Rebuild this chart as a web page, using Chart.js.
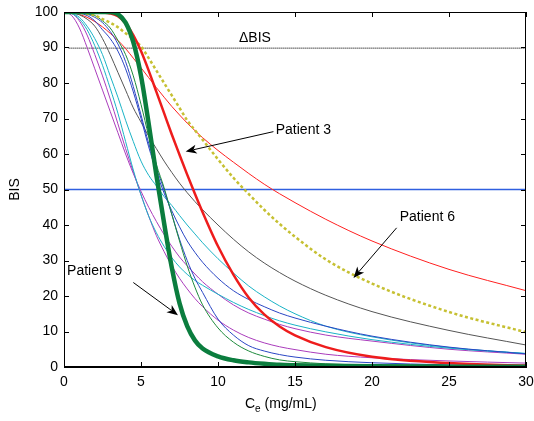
<!DOCTYPE html>
<html>
<head>
<meta charset="utf-8">
<script src="https://cdn.jsdelivr.net/npm/chart.js@4.4.0/dist/chart.umd.min.js"></script>
<style>
  html, body { margin: 0; padding: 0; background: #ffffff; }
  #wrap { width: 534px; height: 421px; }
</style>
</head>
<body>
<div id="wrap"><canvas id="bis-data"></canvas></div>
<script>
// Effect-site concentration grid (mg/mL)
const ce = [0, 0.5, 1, 1.5, 2, 2.5, 3, 3.5, 4, 4.5, 5, 5.5, 6, 6.5, 7, 7.5, 8, 8.5, 9, 10, 11, 12, 13, 14, 15, 17, 20, 25, 30];

// BIS, one array per patient
const patient9  = [100, 100, 100, 100, 100, 100, 100, 99.4, 97, 91.5, 82, 68.5, 54, 40.5, 28, 18, 11.5, 7.5, 5.2, 3, 1.9, 1.3, 0.9, 0.6, 0.5, 0.35, 0.2, 0.1, 0.05];
const patient3  = [100, 100, 100, 100, 100, 99.9, 99.6, 98.8, 96.8, 93.5, 89, 83.5, 77.5, 71.5, 65.5, 59.8, 54.2, 48.8, 43.6, 34, 26, 19.5, 14.8, 11.4, 8.9, 5.6, 2.9, 1.1, 0.4];
const patient6  = [100, 100, 99.8, 99.5, 99, 98, 97, 95.7, 94, 92.3, 90.3, 87, 83.5, 80, 76.5, 73, 69.5, 66.7, 64, 58.5, 53.3, 48.7, 44.3, 40.3, 36.7, 30.3, 23.5, 15.5, 9.8];
const patient10 = [100, 99.8, 99.3, 98.5, 97.3, 95.8, 94, 92, 89.7, 87, 84.3, 81.5, 78.7, 76, 73.4, 71, 68.7, 66.6, 64.6, 61, 57.7, 54.5, 51.5, 48.8, 46.3, 41.6, 35.5, 27.5, 21.5];
const patient7  = [100, 99.8, 99.2, 98, 96, 92.5, 88, 83, 78, 73, 69, 65, 61.5, 58, 54.8, 51.8, 49.1, 46.6, 44.3, 40, 36, 32.4, 29.3, 26.6, 24.2, 20.2, 15.6, 10.3, 6.2];
const patient1  = [100, 100, 99.7, 99, 97.5, 95, 92.5, 89, 84, 77.5, 70, 62, 55, 49, 44, 39.5, 35.5, 32.3, 29.5, 25, 21.5, 19, 17, 15.2, 13.8, 11.5, 8.7, 5.6, 3.7];
const patient8  = [100, 100, 99.8, 99.4, 98.5, 97, 94.5, 91, 86, 79, 71, 63, 56, 50, 43, 36, 30, 25, 21, 13.5, 9, 6, 4.5, 3.5, 2.8, 1.9, 1.2, 0.6, 0.3];
const patient2  = [100, 100, 99.8, 99.5, 99, 97.5, 95.5, 92, 88, 82, 74, 65, 57, 50.5, 43, 35.5, 28.5, 22.5, 17.5, 11, 7, 4.5, 3, 2, 1.5, 0.9, 0.5, 0.2, 0.1];
const patient4  = [100, 99.6, 98, 95, 90.5, 85, 78.5, 71.5, 63.5, 55.5, 48.5, 42.5, 37.8, 34, 30.8, 28.2, 26.1, 24.4, 23, 20.5, 18.2, 16.2, 14.5, 13, 11.8, 9.9, 7.7, 5.3, 3.8];
const patient11 = [100, 99.7, 98.5, 96, 92.5, 88, 82, 76, 69.5, 63.5, 58, 54, 51, 48, 45.5, 42.7, 40, 37.5, 35, 30.5, 26.5, 22.8, 19.8, 17.2, 15, 11.5, 8.5, 5.5, 3.8];
const patient5  = [100, 99, 95.5, 90, 84, 78, 72, 66, 60, 54.5, 49.5, 45, 41, 37.3, 34, 31, 28.5, 26.2, 24, 20.5, 17.5, 15.2, 13.5, 12, 10.8, 9, 7.3, 5, 3.6];
const patient12 = [100, 99.6, 97.5, 93.5, 88, 82, 75.5, 68.5, 61.5, 55, 48.5, 42.5, 37, 32.5, 28.5, 25, 22, 19.3, 17, 13.2, 10.4, 8.3, 6.8, 5.7, 4.9, 3.6, 2.6, 1.7, 1.1];

// Reference levels and axis ticks
const deltaBisLevel = 89.8;
const halfLevel = 50;
const xTicks = [0, 5, 10, 15, 20, 25, 30];
const yTicks = [0, 10, 20, 30, 40, 50, 60, 70, 80, 90, 100];

const FONT = "'Liberation Sans', Arial, Helvetica, sans-serif";

function toPoints(ys) {
  return ce.map((x, i) => ({ x: x, y: ys[i] }));
}

function curve(ys, color, width, dash) {
  return {
    data: toPoints(ys),
    borderColor: color,
    backgroundColor: color,
    borderWidth: width,
    borderDash: dash || [],
    pointRadius: 0,
    fill: false,
    cubicInterpolationMode: 'monotone'
  };
}

function refLine(level, start, color, width, dash) {
  return {
    data: [{ x: start, y: level }, { x: xTicks[xTicks.length - 1], y: level }],
    borderColor: color,
    backgroundColor: color,
    borderWidth: width,
    borderDash: dash || [],
    pointRadius: 0,
    fill: false,
    tension: 0
  };
}

// Arrow with a notched head, drawn from (x1,y1) to tip (x2,y2)
function drawArrow(ctx, x1, y1, x2, y2) {
  const ang = Math.atan2(y2 - y1, x2 - x1);
  const len = 11, half = 4.5, back = 8;
  ctx.beginPath();
  ctx.moveTo(x1, y1);
  ctx.lineTo(x2 - Math.cos(ang) * back, y2 - Math.sin(ang) * back);
  ctx.stroke();
  ctx.beginPath();
  ctx.moveTo(x2, y2);
  ctx.lineTo(x2 - Math.cos(ang) * len - Math.sin(ang) * half, y2 - Math.sin(ang) * len + Math.cos(ang) * half);
  ctx.lineTo(x2 - Math.cos(ang) * back, y2 - Math.sin(ang) * back);
  ctx.lineTo(x2 - Math.cos(ang) * len + Math.sin(ang) * half, y2 - Math.sin(ang) * len - Math.cos(ang) * half);
  ctx.closePath();
  ctx.fill();
}

function noPad(scale) {
  scale.paddingLeft = 0;
  scale.paddingRight = 0;
  scale.paddingTop = 0;
  scale.paddingBottom = 0;
}

const framePlugin = {
  id: 'frame',
  afterDatasetsDraw(chart) {
    const { ctx, chartArea: a, scales } = chart;
    ctx.save();
    ctx.strokeStyle = '#000000';
    ctx.lineWidth = 1;
    ctx.setLineDash([]);
    ctx.strokeRect(a.left + 0.5, a.top + 0.5, a.right - a.left - 1, a.bottom - a.top - 1);
    ctx.beginPath();
    xTicks.forEach(v => {
      const px = Math.round(scales.x.getPixelForValue(v)) + 0.5;
      ctx.moveTo(px, a.bottom); ctx.lineTo(px, a.bottom - 5);
      ctx.moveTo(px, a.top); ctx.lineTo(px, a.top + 5);
    });
    yTicks.forEach(v => {
      const py = Math.round(scales.y.getPixelForValue(v)) + 0.5;
      ctx.moveTo(a.left, py); ctx.lineTo(a.left + 5, py);
      ctx.moveTo(a.right, py); ctx.lineTo(a.right - 5, py);
    });
    ctx.stroke();
    ctx.restore();
  }
};

const notesPlugin = {
  id: 'notes',
  afterDraw(chart) {
    const { ctx, chartArea: a, scales } = chart;
    const X = v => scales.x.getPixelForValue(v);
    const Y = v => scales.y.getPixelForValue(v);
    ctx.save();
    ctx.fillStyle = '#000000';
    ctx.strokeStyle = '#000000';
    ctx.lineWidth = 1;
    ctx.setLineDash([]);

    // Axis titles
    ctx.font = '14px ' + FONT;
    ctx.textBaseline = 'alphabetic';
    ctx.textAlign = 'left';
    const cx = 245, cy = 408;
    ctx.fillText('C', cx, cy);
    const cw = ctx.measureText('C').width;
    ctx.font = '10px ' + FONT;
    ctx.fillText('e', cx + cw, cy + 4);
    const ew = ctx.measureText('e').width;
    ctx.font = '14px ' + FONT;
    ctx.fillText(' (mg/mL)', cx + cw + ew, cy);

    ctx.save();
    ctx.translate(19, (a.top + a.bottom) / 2);
    ctx.rotate(-Math.PI / 2);
    ctx.textAlign = 'center';
    ctx.fillText('BIS', 0, 0);
    ctx.restore();

    // Labels inside the plot
    ctx.textBaseline = 'middle';
    ctx.textAlign = 'center';
    ctx.fillText('\u0394BIS', X(12.4), Y(92.7));

    ctx.textAlign = 'left';
    ctx.fillText('Patient 3', X(13.75), Y(66.8));
    ctx.fillText('Patient 6', X(21.8), Y(42.3));
    ctx.fillText('Patient 9', X(0.2), Y(27));

    drawArrow(ctx, X(13.6), Y(66.3), X(7.9), Y(60.7));
    drawArrow(ctx, X(21.6), Y(39.2), X(18.8), Y(25.1));
    drawArrow(ctx, X(4.5), Y(23.8), X(7.4), Y(14.6));
    ctx.restore();
  }
};

function createBisChart() {
  const bisCtx = document.getElementById('bis-data').getContext('2d');
  new Chart(bisCtx, {
    type: 'line',
    data: {
      datasets: [
        curve(patient9, '#0b7d3e', 4.5),
        curve(patient3, '#ee1c1c', 2.5),
        curve(patient6, '#c6c032', 2.5, [3, 2.5]),
        curve(patient2, '#1d8a3c', 1),
        curve(patient8, '#2a46c4', 1),
        curve(patient1, '#2a46c4', 1),
        curve(patient4, '#1ab3c6', 1),
        curve(patient11, '#1ab3c6', 1),
        curve(patient5, '#aa3cbc', 1),
        curve(patient12, '#aa3cbc', 1),
        curve(patient7, '#555555', 1),
        curve(patient10, '#ff2020', 1),
        refLine(halfLevel, 0, '#2f5fe0', 1.5),
        refLine(deltaBisLevel, 0.3, '#505050', 1.6, [1, 1])
      ]
    },
    options: {
      responsive: true,
      maintainAspectRatio: false,
      animation: false,
      layout: { padding: { left: 0, top: 12, right: 8, bottom: 0 } },
      plugins: {
        legend: { display: false },
        tooltip: { enabled: false }
      },
      scales: {
        x: {
          type: 'linear',
          min: 0,
          max: 30,
          afterFit: function(scale) { scale.height = 54; noPad(scale); },
          afterBuildTicks: function(scale) { scale.ticks = xTicks.map(v => ({ value: v })); },
          grid: { display: false, drawTicks: false },
          border: { display: true, color: '#000000' },
          ticks: { color: '#000000', padding: 7, maxRotation: 0, font: { size: 14, family: FONT } }
        },
        y: {
          type: 'linear',
          min: 0,
          max: 100,
          afterFit: function(scale) { scale.width = 64; noPad(scale); },
          afterBuildTicks: function(scale) { scale.ticks = yTicks.map(v => ({ value: v })); },
          grid: { display: false, drawTicks: false },
          border: { display: true, color: '#000000' },
          ticks: { color: '#000000', padding: 6, font: { size: 14, family: FONT } }
        }
      }
    },
    plugins: [framePlugin, notesPlugin]
  });
}

document.addEventListener('DOMContentLoaded', () => {
  createBisChart();
});
</script>
</body>
</html>
